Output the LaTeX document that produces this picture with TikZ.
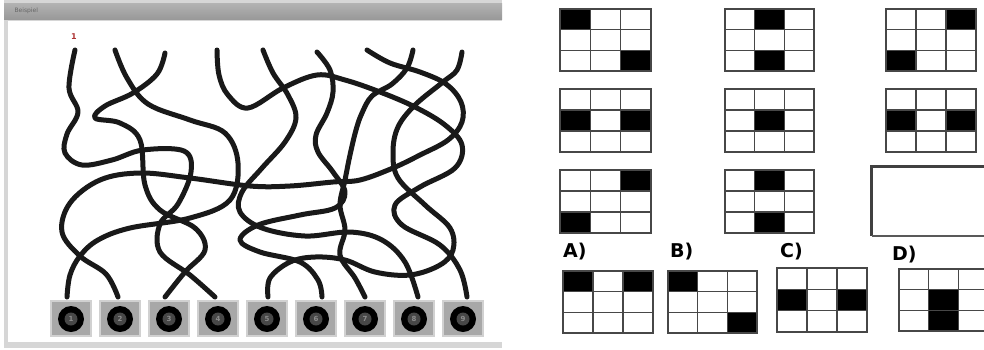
\documentclass[tikz,border=0pt]{standalone}
\usepackage{fontspec}
\setsansfont{DejaVu Sans}
\newcommand\cellgrid[5]{%
  \foreach \r/\c in {#5} {
    \fill[black] ({#1+(\c-1)*(#3-#1)/3},{#2+(\r-1)*(#4-#2)/3}) rectangle ({#1+\c*(#3-#1)/3},{#2+\r*(#4-#2)/3});
  }
  \draw[gridline] (#1,#2) rectangle (#3,#4);
  \foreach \k in {1,2} {
    \draw[gridline] ({#1+\k*(#3-#1)/3},#2) -- ({#1+\k*(#3-#1)/3},#4);
    \draw[gridline] (#1,{#2+\k*(#4-#2)/3}) -- (#3,{#2+\k*(#4-#2)/3});
  }
}
\begin{document}
\begin{tikzpicture}[x=1pt,y=-1pt,
  wire/.style={line width=5pt, line cap=round, line join=round, black!90},
  gridline/.style={draw=black!72, line width=1.4pt},
  lbl/.style={font=\sffamily\bfseries\fontsize{19}{19}\selectfont, anchor=west, inner sep=0pt},
  btnsq/.style={fill=black!34},
]
\useasboundingbox (0,0) rectangle (984,349);
\clip (0,0) rectangle (984,349);
\fill[white] (0,0) rectangle (984,349);

% ---- window ----
\fill[black!16] (4,0) rectangle (502,348);
\shade[top color=black!30, bottom color=black!40] (4,3) rectangle (502,19);
\fill[white] (8,21) rectangle (502,342);
\node[anchor=west, font=\sffamily\fontsize{6}{6}\selectfont, text=black!60] (title) at (11,11) {Beispiel};
\node[font=\sffamily\bfseries\fontsize{8}{8}\selectfont, text=red!60!black!80] (one) at (74,37) {1};

% ---- wires ----
\draw[wire] plot[smooth, tension=0.6] coordinates {(75,50) (69,88) (78,112) (67,134) (65,153) (82,165) (112,160) (143,150) (184,151) (191,172) (178,204) (160,224) (160,252) (190,275) (215,297)};
\draw[wire] plot[smooth, tension=0.6] coordinates {(115,50) (127,78) (148,104) (190,120) (225,133) (238,163) (230,200) (190,218) (130,228) (98,240) (80,256) (70,275) (67,297)};
\draw[wire] plot[smooth, tension=0.6] coordinates {(367,50) (390,63) (420,72) (446,84) (461,102) (462,122) (448,140) (420,155) (393,168) (360,180) (333,182) (290,186) (250,186) (190,178) (140,173) (100,180) (70,203) (62,232) (80,256) (106,274) (118,297)};
\draw[wire] plot[smooth, tension=0.6] coordinates {(165,53) (157,74) (133,93) (105,106) (95,118) (120,123) (140,140) (145,185) (160,210) (195,228) (205,250) (185,272) (165,297)};
\draw[wire] plot[smooth, tension=0.6] coordinates {(217,50) (219,75) (228,95) (248,108) (283,88) (317,75) (345,80) (380,92) (415,107) (445,125) (462,145) (455,168) (420,187) (395,205) (402,225) (440,245) (460,270) (467,297)};
\draw[wire] plot[smooth, tension=0.6] coordinates {(317,52) (330,70) (333,92) (327,113) (316,135) (318,152) (333,172) (345,192) (335,208) (300,215) (258,225) (240,240) (260,252) (300,262) (318,280) (322,297)};
\draw[wire] plot[smooth, tension=0.6] coordinates {(263,50) (273,73) (288,95) (296,118) (285,142) (262,168) (242,192) (240,212) (262,228) (305,236) (350,232) (382,240) (405,262) (418,297)};
\draw[wire] plot[smooth, tension=0.6] coordinates {(413,50) (407,68) (392,84) (372,96) (362,113) (356,130) (350,155) (345,180) (340,205) (345,230) (340,255) (355,278) (365,297)};
\draw[wire] plot[smooth, tension=0.6] coordinates {(462,52) (457,70) (443,82) (415,105) (398,127) (393,152) (398,178) (425,205) (450,228) (453,250) (440,265) (410,275) (375,272) (345,260) (315,257) (290,262) (270,278) (268,297)};

% ---- number buttons ----
\foreach \i in {1,...,9} {
  \pgfmathsetmacro\cx{22+49*\i}
  \fill[black!18] (\cx-21,300) rectangle (\cx+21,337);
  \fill[btnsq] (\cx-19,302) rectangle (\cx+19,335);
  \fill[black] (\cx,319) circle (13);
  \fill[black!72] (\cx,319) circle (6.5);
  \node[font=\sffamily\bfseries\fontsize{7}{7}\selectfont, text=black!45, inner sep=0pt] (n\i) at (\cx,319) {\i};
}

% ---- matrix puzzle ----
\cellgrid{560}{9}{651}{71}{1/1,3/3}
\cellgrid{725}{9}{814}{71}{1/2,3/2}
\cellgrid{886}{9}{976}{71}{1/3,3/1}
\cellgrid{560}{89}{651}{152}{2/1,2/3}
\cellgrid{725}{89}{814}{152}{2/2}
\cellgrid{886}{89}{976}{152}{2/1,2/3}
\cellgrid{560}{170}{651}{233}{1/3,3/1}
\cellgrid{725}{170}{814}{233}{1/2,3/2}
% empty answer box
\draw[black!75, line width=2.6pt] (871.5,236) -- (871.5,166.5) -- (990,166.5);
\draw[black!65, line width=1.5pt] (871.5,236) -- (990,236);

% ---- options ----
\node[lbl] (la) at (563,252) {A)};
\node[lbl] (lb) at (670,252) {B)};
\node[lbl] (lc) at (780,252) {C)};
\node[lbl] (ld) at (892,255) {D)};
\cellgrid{563}{271}{653}{333}{1/1,1/3}
\cellgrid{668}{271}{757}{333}{1/1,3/3}
\cellgrid{777}{268}{867}{332}{2/1,2/3}
\cellgrid{899}{269}{988}{331}{2/2,3/2}
\end{tikzpicture}
\end{document}
